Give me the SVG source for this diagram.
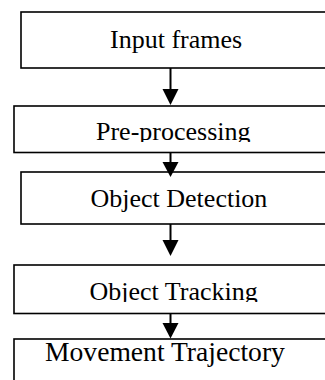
<svg xmlns="http://www.w3.org/2000/svg" width="325" height="380" viewBox="0 0 325 380">
<style>
.box{fill:#fff;stroke:#000;stroke-width:1.6}
.lbl{font-family:"Liberation Serif","Times New Roman",serif;font-size:26px;fill:#000}
.conn{stroke:#000;stroke-width:2;fill:none}
.head{fill:#000}
</style>
<defs>
<clipPath id="c2"><rect x="0" y="0" width="325" height="142"/></clipPath>
<clipPath id="c4"><rect x="0" y="0" width="325" height="302"/></clipPath>
</defs>
<rect width="325" height="380" fill="#fff"/>
<g id="node-input">
<rect class="box" x="21" y="12" width="320" height="56"/>
<text class="lbl" x="110" y="48">Input frames</text>
</g>
<g id="node-preprocessing">
<rect class="box" x="14" y="106" width="327" height="46.5"/>
<text class="lbl" x="96" y="140" clip-path="url(#c2)">Pre-processing</text>
</g>
<g id="node-detection">
<rect class="box" x="21" y="172" width="320" height="52"/>
<text class="lbl" x="90.5" y="207">Object Detection</text>
</g>
<g id="node-tracking">
<rect class="box" x="14" y="265" width="327" height="48.5"/>
<text class="lbl" x="89.5" y="300" clip-path="url(#c4)">Object Tracking</text>
</g>
<g id="node-trajectory">
<rect class="box" x="14" y="339" width="327" height="60"/>
<text class="lbl" x="45" y="361" style="font-size:27.6px">Movement Trajectory</text>
</g>
<g id="connectors">
<line class="conn" x1="170.5" y1="68" x2="170.5" y2="90"/>
<polygon class="head" points="162.5,89 178.5,89 170.5,105"/>
<line class="conn" x1="170.5" y1="152" x2="170.5" y2="163"/>
<polygon class="head" points="162.5,162 178.5,162 170.5,177"/>
<line class="conn" x1="170.5" y1="224" x2="170.5" y2="241"/>
<polygon class="head" points="162.5,240 178.5,240 170.5,256"/>
<line class="conn" x1="170.5" y1="313" x2="170.5" y2="324"/>
<polygon class="head" points="162.5,323 178.5,323 170.5,338.5"/>
</g>
</svg>
